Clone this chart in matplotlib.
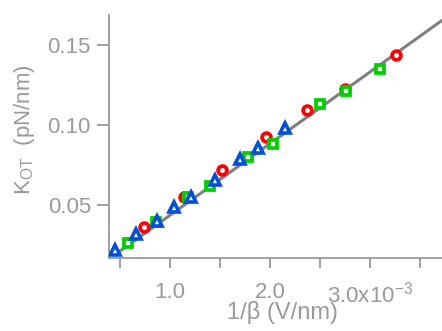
import numpy as np
import matplotlib
matplotlib.use("Agg")
import matplotlib.pyplot as plt

plt.rcParams['font.family'] = ['Liberation Sans', 'DejaVu Sans']
plt.rcParams['mathtext.default'] = 'regular'

# data (x in units of 1e-3 V/nm)
tri_x = [0.45, 0.66, 0.867, 1.04, 1.21, 1.45, 1.70, 1.883, 2.15]
tri_y = [0.0219, 0.0317, 0.0400, 0.0489, 0.0552, 0.0656, 0.0789, 0.0858, 0.0983]

sq_x = [0.577, 0.86, 1.183, 1.40, 1.783, 2.033, 2.50, 2.76, 3.10]
sq_y = [0.0260, 0.0392, 0.0548, 0.0619, 0.0802, 0.0885, 0.1131, 0.1217, 0.1350]

circ_x = [0.74, 1.143, 1.517, 1.957, 2.367, 2.75, 3.26]
circ_y = [0.0360, 0.0552, 0.0719, 0.0927, 0.1098, 0.1229, 0.1442]

fit_x = [0.45, 3.72]
fit_y = [0.0190, 0.1656]

grey = '#9a9a9a'

fig = plt.figure(figsize=(4.42, 3.31), dpi=100)
ax = fig.add_axes([109/442, 73/331, 1 - 109/442, (258-15)/331])

ax.plot(fit_x, fit_y, color='#808080', lw=2.2, zorder=1)
ax.plot(circ_x, circ_y, 'o', ms=6.3, mew=2.7, mfc='white', mec='#ff0000', zorder=2)
ax.plot(sq_x, sq_y, 's', ms=5.7, mew=2.7, mfc='white', mec='#00d000', zorder=3)
ax.plot(tri_x, tri_y, '^', ms=6.8, mew=2.6, mfc='white', mec='#0050d8', zorder=4)

ax.set_xlim(0.39, 3.72)
ax.set_ylim(0.0169, 0.169)

ax.set_xticks([1.0, 2.0, 3.0])
ax.set_xticklabels(['1.0', '2.0', '3.0x10$^{-3}$'])
ax.set_xticks([0.5, 1.5, 2.5, 3.5], minor=True)
ax.set_yticks([0.05, 0.10, 0.15])
ax.set_yticklabels(['0.05', '0.10', '0.15'])

ax.tick_params(axis='both', which='both', direction='out', colors=grey,
               labelcolor=grey, labelsize=16, width=1.3)
ax.tick_params(axis='y', length=9, pad=4)
ax.tick_params(axis='x', which='both', length=7, pad=10)

for s in ['top', 'right']:
    ax.spines[s].set_visible(False)
for s in ['left', 'bottom']:
    ax.spines[s].set_color(grey)
    ax.spines[s].set_linewidth(1.3)

ax.set_xlabel('1/β (V/nm)', fontsize=17, color=grey)
ax.xaxis.set_label_coords(0.52, -0.178, transform=ax.transAxes)
ax.xaxis.label.set_va('top')
ax.set_ylabel('K$_{OT}$  (pN/nm)', fontsize=16, color=grey)
ax.yaxis.set_label_coords(-0.215, 0.53, transform=ax.transAxes)

fig.savefig('out.png', dpi=100)
